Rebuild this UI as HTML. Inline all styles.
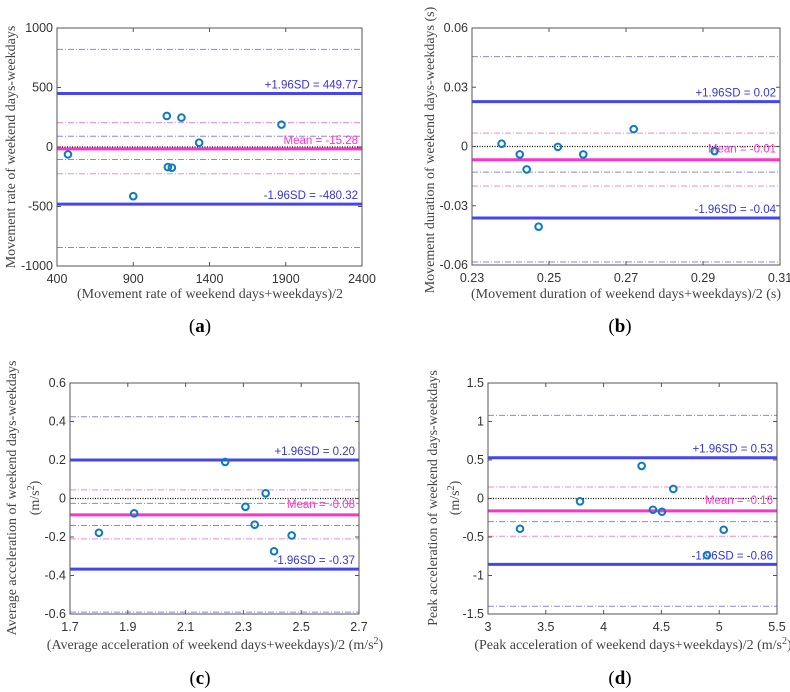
<!DOCTYPE html>
<html><head><meta charset="utf-8"><style>
body{margin:0;background:#fff}
svg{display:block}
.tk{font-family:"Liberation Sans",sans-serif;font-size:12.5px;fill:#333}
.tt{font-family:"Liberation Serif",serif;font-size:14px;fill:#444}
.pl{font-family:"Liberation Serif",serif;font-size:19px;fill:#000}
.ann{font-family:"Liberation Sans",sans-serif;font-size:11.5px}
</style></head><body>
<svg id="fig" width="790" height="692" viewBox="0 0 790 692" xmlns="http://www.w3.org/2000/svg"></svg>
<script>
// Panel (a)
const aX=[472,900,1120,1216,1127,1153,1332,1872];
const aY=[-62,-413,261,247,-169,-174,36,188];
const aMean=-15.28, aUp=449.77, aLo=-480.32;
const aCIblue=[820,90,-105,-845], aCIpink=[205,-225];
const aXT=[400,900,1400,1900,2400], aYT=[-1000,-500,0,500,1000];
const aXTL=["400","900","1400","1900","2400"], aYTL=["-1000","-500","0","500","1000"];
// Panel (b)
const bX=[0.2377,0.2424,0.2442,0.2473,0.2523,0.2589,0.2720,0.2930];
const bY=[0.0014,-0.0040,-0.0116,-0.0406,-0.0002,-0.0040,0.0088,-0.0023];
const bMean=-0.0067, bUp=0.0227, bLo=-0.0362;
const bCIblue=[0.0455,-0.013,-0.0585], bCIpink=[0.0068,-0.0200];
const bXT=[0.23,0.25,0.27,0.29,0.31], bYT=[-0.06,-0.03,0,0.03,0.06];
const bXTL=["0.23","0.25","0.27","0.29","0.31"], bYTL=["-0.06","-0.03","0","0.03","0.06"];
// Panel (c)
const cX=[1.800,1.922,2.237,2.307,2.339,2.377,2.406,2.467];
const cY=[-0.178,-0.077,0.190,-0.043,-0.136,0.027,-0.274,-0.192];
const cMean=-0.085, cUp=0.20, cLo=-0.367;
const cCIblue=[0.425,-0.025,-0.14,-0.59], cCIpink=[0.045,-0.21];
const cXT=[1.7,1.9,2.1,2.3,2.5,2.7], cYT=[-0.6,-0.4,-0.2,0,0.2,0.4,0.6];
const cXTL=["1.7","1.9","2.1","2.3","2.5","2.7"], cYTL=["-0.6","-0.4","-0.2","0","0.2","0.4","0.6"];
// Panel (d)
const dX=[3.277,3.796,4.329,4.427,4.505,4.603,4.894,5.039];
const dY=[-0.393,-0.037,0.423,-0.146,-0.172,0.124,-0.736,-0.406];
const dMean=-0.16, dUp=0.53, dLo=-0.855;
const dCIblue=[1.08,-0.30,-1.40], dCIpink=[0.15,-0.49];
const dXT=[3,3.5,4,4.5,5,5.5], dYT=[-1.5,-1,-0.5,0,0.5,1,1.5];
const dXTL=["3","3.5","4","4.5","5","5.5"], dYTL=["-1.5","-1","-0.5","0","0.5","1","1.5"];

const NS="http://www.w3.org/2000/svg";
const svg=document.getElementById('fig');
function mk(tag,attrs,parent,txt){const e=document.createElementNS(NS,tag);for(const k in attrs)e.setAttribute(k,attrs[k]);if(txt!==undefined)e.textContent=txt;(parent||svg).appendChild(e);return e;}

function panel(o){
  const g=mk('g',{});
  
  
  const sx=v=>o.L+(v-o.xmin)/(o.xmax-o.xmin)*(o.R-o.L);
  const sy=v=>o.B-(v-o.ymin)/(o.ymax-o.ymin)*(o.B-o.T);
  const bg=mk('rect',{x:o.L,y:o.T,width:o.R-o.L,height:o.B-o.T,fill:'#fff',stroke:'none'},g);
  
  
  o.ciB.forEach(v=>{const l=mk('line',{x1:o.L,x2:o.R,y1:sy(v),y2:sy(v),stroke:'#8888dd','stroke-width':1,'stroke-dasharray':'6,2,1,2'},g);
    
    });
  o.ciP.forEach(v=>{const l=mk('line',{x1:o.L,x2:o.R,y1:sy(v),y2:sy(v),stroke:'#ee88dd','stroke-width':1,'stroke-dasharray':'6,2,1,2'},g);
    
    });
  const z=mk('line',{x1:o.L,x2:o.R,y1:sy(0),y2:sy(0),stroke:'#000','stroke-width':1.2,'stroke-dasharray':'1,1.5'},g);
  
  
  const up=mk('line',{x1:o.L,x2:o.R,y1:sy(o.up),y2:sy(o.up),stroke:'#4646f0','stroke-width':3},g);
  
  
  const lo=mk('line',{x1:o.L,x2:o.R,y1:sy(o.lo),y2:sy(o.lo),stroke:'#4646f0','stroke-width':3},g);
  
  
  const mn=mk('line',{x1:o.L,x2:o.R,y1:sy(o.mean),y2:sy(o.mean),stroke:'#ff33cc','stroke-width':3},g);
  
  
  const t1=mk('text',{x:o.R-4,y:sy(o.up)-5,'text-anchor':'end',fill:'#3535e0',class:'ann'},g,o.upT);
  
  
  const t2=mk('text',{x:o.R-4,y:sy(o.lo)-5,'text-anchor':'end',fill:'#3535e0',class:'ann'},g,o.loT);
  
  
  const t3=mk('text',{x:o.R-4,y:sy(o.mean)+o.meanOff,'text-anchor':'end',fill:'#ff33cc',class:'ann'},g,o.meanT);
  
  
  const fr=mk('rect',{x:o.L,y:o.T,width:o.R-o.L,height:o.B-o.T,fill:'none',stroke:'#555','stroke-width':1},g);
  
  
  o.xt.forEach((v,i)=>{const x=sx(v);
    mk('line',{x1:x,x2:x,y1:o.B,y2:o.B-4,stroke:'#555'},g);
    mk('line',{x1:x,x2:x,y1:o.T,y2:o.T+4,stroke:'#555'},g);
    const t=mk('text',{x:x,y:o.B+17,'text-anchor':'middle',class:'tk'},g,o.xtl[i]);
    
    });
  o.yt.forEach((v,i)=>{const y=sy(v);
    mk('line',{x1:o.L,x2:o.L+4,y1:y,y2:y,stroke:'#555'},g);
    mk('line',{x1:o.R,x2:o.R-4,y1:y,y2:y,stroke:'#555'},g);
    const t=mk('text',{x:o.L-4,y:y+4,'text-anchor':'end',class:'tk'},g,o.ytl[i]);
    
    });
  o.xs.forEach((v,i)=>{const c=mk('circle',{cx:sx(v),cy:sy(o.ys[i]),r:3.3,fill:'none',stroke:'#0a7ac4','stroke-width':2},g);
    
    });
  const xt=mk('text',{x:o.xtX,y:o.xtY,'text-anchor':'middle',class:'tt'},g);
  xt.innerHTML=o.xtitle;
  
  
  o.ytitle.forEach((s,i)=>{const t=mk('text',{x:0,y:0,'text-anchor':'middle',class:'tt',transform:`translate(${o.ytX[i]},${o.ytY}) rotate(-90)`},g);
    t.innerHTML=s;
    
    });
  const pl=mk('text',{x:o.plX,y:o.plY,'text-anchor':'middle',class:'pl'},g);
  pl.innerHTML='(<tspan font-weight="bold">'+o.id+'</tspan>)';
  
  
}
const sup='<tspan dy="-5" font-size="10">2</tspan><tspan dy="5">)</tspan>';
panel({id:'a',L:57,R:362,T:28,B:266,xmin:400,xmax:2400,ymin:-1000,ymax:1000,xs:aX,ys:aY,mean:aMean,up:aUp,lo:aLo,ciB:aCIblue,ciP:aCIpink,
 xt:aXT,yt:aYT,xtl:aXTL,ytl:aYTL,upT:'+1.96SD = 449.77',loT:'-1.96SD = -480.32',meanT:'Mean = -15.28',meanOff:-5,
 xtitle:'(Movement rate of weekend days+weekdays)/2',xtX:210,xtY:298,ytitle:['Movement rate of weekend days-weekdays'],ytX:[15],ytY:147,plX:200,plY:332});
panel({id:'b',L:472,R:780,T:28,B:265,xmin:0.23,xmax:0.31,ymin:-0.06,ymax:0.06,xs:bX,ys:bY,mean:bMean,up:bUp,lo:bLo,ciB:bCIblue,ciP:bCIpink,
 xt:bXT,yt:bYT,xtl:bXTL,ytl:bYTL,upT:'+1.96SD = 0.02',loT:'-1.96SD = -0.04',meanT:'Mean = -0.01',meanOff:-7,
 xtitle:'(Movement duration of weekend days+weekdays)/2 (s)',xtX:626,xtY:298,ytitle:['Movement duration of weekend days-weekdays (s)'],ytX:[434],ytY:150,plX:620,plY:332});
panel({id:'c',L:70,R:359,T:383,B:614,xmin:1.7,xmax:2.7,ymin:-0.6,ymax:0.6,xs:cX,ys:cY,mean:cMean,up:cUp,lo:cLo,ciB:cCIblue,ciP:cCIpink,
 xt:cXT,yt:cYT,xtl:cXTL,ytl:cYTL,upT:'+1.96SD = 0.20',loT:'-1.96SD = -0.37',meanT:'Mean = -0.08',meanOff:-7,
 xtitle:'(Average acceleration of weekend days+weekdays)/2 (m/s'+sup,xtX:215,xtY:649,ytitle:['Average acceleration of weekend days-weekdays','(m/s'+sup],ytX:[16,39],ytY:498,plX:200,plY:684});
panel({id:'d',L:488,R:777,T:383,B:614,xmin:3,xmax:5.5,ymin:-1.5,ymax:1.5,xs:dX,ys:dY,mean:dMean,up:dUp,lo:dLo,ciB:dCIblue,ciP:dCIpink,
 xt:dXT,yt:dYT,xtl:dXTL,ytl:dYTL,upT:'+1.96SD = 0.53',loT:'-1.96SD = -0.86',meanT:'Mean = -0.16',meanOff:-7,
 xtitle:'(Peak acceleration of weekend days+weekdays)/2 (m/s'+sup,xtX:633,xtY:649,ytitle:['Peak acceleration of weekend days-weekdays','(m/s'+sup],ytX:[437,459],ytY:498,plX:620,plY:684});
</script>
</body></html>
